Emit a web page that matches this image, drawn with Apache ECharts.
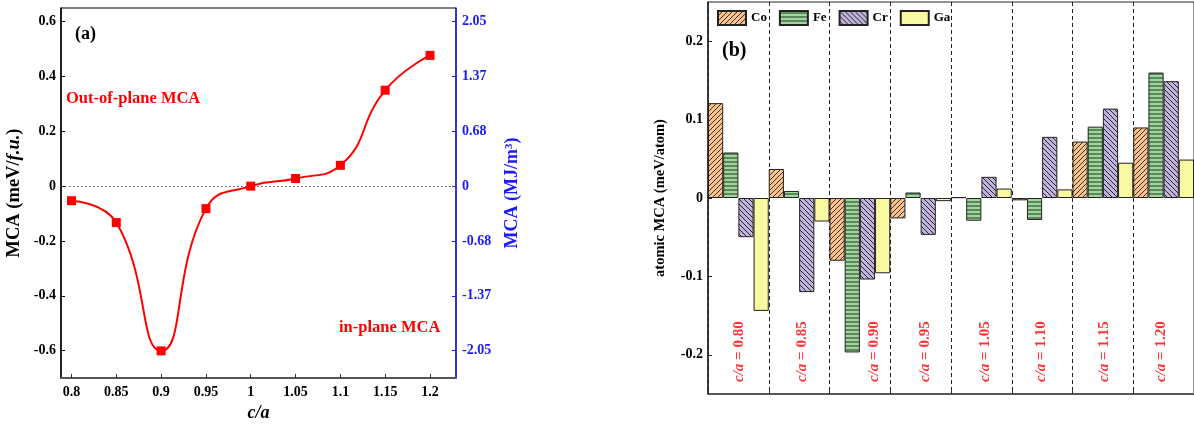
<!DOCTYPE html>
<html>
<head>
<meta charset="utf-8">
<script src="https://cdn.jsdelivr.net/npm/echarts@6/dist/echarts.min.js"></script>
<style>html,body{margin:0;padding:0;background:#fff}#c{width:1194px;height:427px}</style>
</head>
<body>
<div id="c"></div>
<script>
// ---- Panel (a) data ----
const caValues = [0.8, 0.85, 0.9, 0.95, 1.0, 1.05, 1.1, 1.15, 1.2];
const mcaValues = [-0.053, -0.133, -0.601, -0.082, 0.0, 0.028, 0.076, 0.350, 0.477];
const xTickValues = [0.8, 0.85, 0.9, 0.95, 1.0, 1.05, 1.1, 1.15, 1.2];
const xTickLabels = ['0.8', '0.85', '0.9', '0.95', '1', '1.05', '1.1', '1.15', '1.2'];
const leftTickValues = [-0.6, -0.4, -0.2, 0, 0.2, 0.4, 0.6];
const leftTickLabels = ['-0.6', '-0.4', '-0.2', '0', '0.2', '0.4', '0.6'];
const rightTickLabels = ['-2.05', '-1.37', '-0.68', '0', '0.68', '1.37', '2.05'];

// ---- Panel (b) data ----
const groups = ['0.80', '0.85', '0.90', '0.95', '1.05', '1.10', '1.15', '1.20'];
const coValues = [0.121, 0.037, -0.080, -0.026, 0.001, -0.003, 0.072, 0.090];
const feValues = [0.058, 0.009, -0.197, 0.007, -0.029, -0.028, 0.091, 0.160];
const crValues = [-0.050, -0.120, -0.104, -0.047, 0.027, 0.078, 0.114, 0.149];
const gaValues = [-0.144, -0.030, -0.096, -0.004, 0.012, 0.011, 0.045, 0.049];
const barTickValues = [-0.2, -0.1, 0, 0.1, 0.2];
const barTickLabels = ['-0.2', '-0.1', '0', '0.1', '0.2'];
const groupLabelLevel = -0.196;

// layout-only: horizontal nudges (px) of the rotated group labels
const groupLabelNudge = [1, 3, 14, 4, 4, -1, 1, -3];

const FONT = 'Liberation Serif';

function pattern(bg, line, type, size, lw) {
  const c = document.createElement('canvas');
  c.width = size; c.height = size;
  const ctx = c.getContext('2d');
  ctx.fillStyle = bg; ctx.fillRect(0, 0, size, size);
  if (type) {
    ctx.strokeStyle = line; ctx.lineWidth = lw;
    ctx.beginPath();
    if (type === 'h') {
      ctx.moveTo(0, size / 2); ctx.lineTo(size, size / 2);
    } else if (type === '/') {
      ctx.moveTo(-1, size + 1); ctx.lineTo(size + 1, -1);
      ctx.moveTo(-1, 1); ctx.lineTo(1, -1);
      ctx.moveTo(size - 1, size + 1); ctx.lineTo(size + 1, size - 1);
    } else {
      ctx.moveTo(-1, -1); ctx.lineTo(size + 1, size + 1);
      ctx.moveTo(size - 1, -1); ctx.lineTo(size + 1, 1);
      ctx.moveTo(-1, size - 1); ctx.lineTo(1, size + 1);
    }
    ctx.stroke();
  }
  return { image: c, repeat: 'repeat' };
}

const coFill = pattern('#f8c28e', '#3e2f20', '/', 5, 1);
const feFill = pattern('#a0d69b', '#3d5c3c', 'h', 4, 1.3);
const crFill = pattern('#c1b4dc', '#26222e', '\\', 5, 1);
const gaFill = '#f9f9a2';

function barSeries(name, values, fill) {
  return {
    name: name, type: 'bar', xAxisIndex: 1, yAxisIndex: 2,
    data: values, barGap: '0%', barCategoryGap: '0%',
    itemStyle: { color: fill, borderColor: '#222', borderWidth: 1 },
    emphasis: { disabled: true }
  };
}

const chart = echarts.init(document.getElementById('c'), null, { renderer: 'canvas' });

const option = {
  animation: false,
  backgroundColor: '#fff',
  textStyle: { fontFamily: FONT },
  grid: [
    { left: 61, top: 8, width: 395, height: 373, show: true, borderColor: '#000', borderWidth: 1, containLabel: false },
    { left: 708, top: 2, width: 490, height: 392, show: true, borderColor: '#222', borderWidth: 1, containLabel: false }
  ],
  legend: {
    data: ['Co', 'Fe', 'Cr', 'Ga'],
    left: 717, top: 10, padding: 0,
    itemWidth: 28, itemHeight: 14, itemGap: 12,
    icon: 'rect',
    textStyle: { fontFamily: FONT, fontWeight: 'bold', fontSize: 13, color: '#000' },
    selectedMode: false
  },
  xAxis: [
    {
      type: 'value', gridIndex: 0, min: 0.7883, max: 1.229,
      name: 'c/a', nameLocation: 'middle', nameGap: 26,
      nameTextStyle: { fontFamily: FONT, fontWeight: 'bold', fontStyle: 'italic', fontSize: 18, color: '#000' },
      axisLine: { show: true, onZero: false, lineStyle: { color: '#555', width: 2 } },
      axisTick: { show: true, inside: true, length: 4, customValues: xTickValues, lineStyle: { color: '#333' } },
      axisLabel: {
        show: true, customValues: xTickValues, margin: 7,
        fontFamily: FONT, fontWeight: 'bold', fontSize: 14, color: '#000',
        formatter: function (v) { const i = xTickValues.findIndex(t => Math.abs(t - v) < 1e-6); return i >= 0 ? xTickLabels[i] : ''; }
      },
      splitLine: { show: false }
    },
    {
      type: 'category', gridIndex: 1, data: groups, boundaryGap: true, position: 'bottom',
      axisLine: { show: true, onZero: false, lineStyle: { color: '#444', width: 1.5 } },
      axisTick: { show: true, inside: true, length: 4, lineStyle: { color: '#333' } },
      axisLabel: { show: false },
      splitLine: { show: true, lineStyle: { color: '#222', type: [4, 3], width: 1 } }
    }
  ],
  yAxis: [
    {
      type: 'value', gridIndex: 0, min: -0.7, max: 0.65, position: 'left',
      name: 'MCA (meV/{i|f.u.})', nameLocation: 'middle', nameGap: 37,
      nameTextStyle: {
        fontFamily: FONT, fontWeight: 'bold', fontSize: 18.5, color: '#000',
        rich: { i: { fontFamily: FONT, fontWeight: 'bold', fontStyle: 'italic', fontSize: 18.5, color: '#000' } }
      },
      axisLine: { show: true, onZero: false, lineStyle: { color: '#000', width: 1.5 } },
      axisTick: { show: true, inside: true, length: 4, customValues: leftTickValues, lineStyle: { color: '#000' } },
      axisLabel: {
        show: true, customValues: leftTickValues, margin: 5,
        fontFamily: FONT, fontWeight: 'bold', fontSize: 14, color: '#000',
        formatter: function (v) { const i = leftTickValues.findIndex(t => Math.abs(t - v) < 1e-6); return i >= 0 ? leftTickLabels[i] : ''; }
      },
      splitLine: { show: false }
    },
    {
      type: 'value', gridIndex: 0, min: -0.7, max: 0.65, position: 'right',
      name: 'MCA (MJ/m³)', nameLocation: 'middle', nameGap: 47, nameRotate: 90,
      nameTextStyle: { fontFamily: FONT, fontWeight: 'bold', fontSize: 18, color: '#1a1aff', verticalAlign: 'top' },
      axisLine: { show: true, onZero: false, lineStyle: { color: '#1a1aff', width: 1.5 } },
      axisTick: { show: true, inside: true, length: 4, customValues: leftTickValues, lineStyle: { color: '#1a1aff' } },
      axisLabel: {
        show: true, customValues: leftTickValues, margin: 6,
        fontFamily: FONT, fontWeight: 'bold', fontSize: 14, color: '#1a1aff',
        formatter: function (v) { const i = leftTickValues.findIndex(t => Math.abs(t - v) < 1e-6); return i >= 0 ? rightTickLabels[i] : ''; }
      },
      splitLine: { show: false }
    },
    {
      type: 'value', gridIndex: 1, min: -0.25, max: 0.25, position: 'left',
      name: 'atomic MCA (meV/atom)', nameLocation: 'middle', nameGap: 40,
      nameTextStyle: { fontFamily: FONT, fontWeight: 'bold', fontSize: 14.5, color: '#000' },
      axisLine: { show: true, onZero: false, lineStyle: { color: '#222', width: 1.5 } },
      axisTick: { show: true, inside: true, length: 4, customValues: barTickValues, lineStyle: { color: '#222' } },
      axisLabel: {
        show: true, customValues: barTickValues, margin: 5,
        fontFamily: FONT, fontWeight: 'bold', fontSize: 14, color: '#000',
        formatter: function (v) { const i = barTickValues.findIndex(t => Math.abs(t - v) < 1e-6); return i >= 0 ? barTickLabels[i] : ''; }
      },
      splitLine: { show: false }
    }
  ],
  series: [
    {
      name: 'MCA', type: 'line', xAxisIndex: 0, yAxisIndex: 0,
      data: caValues.map((x, i) => [x, mcaValues[i]]),
      smooth: 0.5,
      symbol: 'rect', symbolSize: 9,
      lineStyle: { color: '#ff0000', width: 2 },
      itemStyle: { color: '#ff0000' },
      z: 5,
      markLine: {
        silent: true, symbol: ['none', 'none'], label: { show: false },
        lineStyle: { color: '#555', type: [1.5, 2.5], width: 1 },
        emphasis: { disabled: true },
        data: [{ yAxis: 0 }]
      }
    },
    barSeries('Co', coValues, coFill),
    barSeries('Fe', feValues, feFill),
    barSeries('Cr', crValues, crFill),
    barSeries('Ga', gaValues, gaFill),
    {
      name: 'groupLabels', type: 'scatter', xAxisIndex: 1, yAxisIndex: 2,
      data: groups.map((g, i) => ({ value: [i, groupLabelLevel], label: { offset: [0, groupLabelNudge[i]] } })),
      symbolSize: 0, silent: true, z: 10,
      label: {
        show: true, position: 'inside', rotate: 90,
        fontFamily: FONT, fontWeight: 'bold', fontSize: 15, color: '#ff0000',
        formatter: function (p) { return '{i|c/a} = ' + groups[p.dataIndex]; },
        rich: { i: { fontFamily: FONT, fontWeight: 'bold', fontStyle: 'italic', fontSize: 15, color: '#ff0000' } }
      }
    }
  ],
  graphic: [
    { type: 'text', left: 75, top: 25, style: { text: '(a)', font: 'bold 18px "Liberation Serif"', fill: '#000' } },
    { type: 'text', left: 66, top: 90, style: { text: 'Out-of-plane MCA', font: 'bold 16.5px "Liberation Serif"', fill: '#ff0000' } },
    { type: 'text', left: 339, top: 319, style: { text: 'in-plane MCA', font: 'bold 16.5px "Liberation Serif"', fill: '#ff0000' } },
    { type: 'text', left: 722, top: 41, style: { text: '(b)', font: 'bold 20px "Liberation Serif"', fill: '#000' } }
  ]
};

chart.setOption(option);
</script>
</body>
</html>
